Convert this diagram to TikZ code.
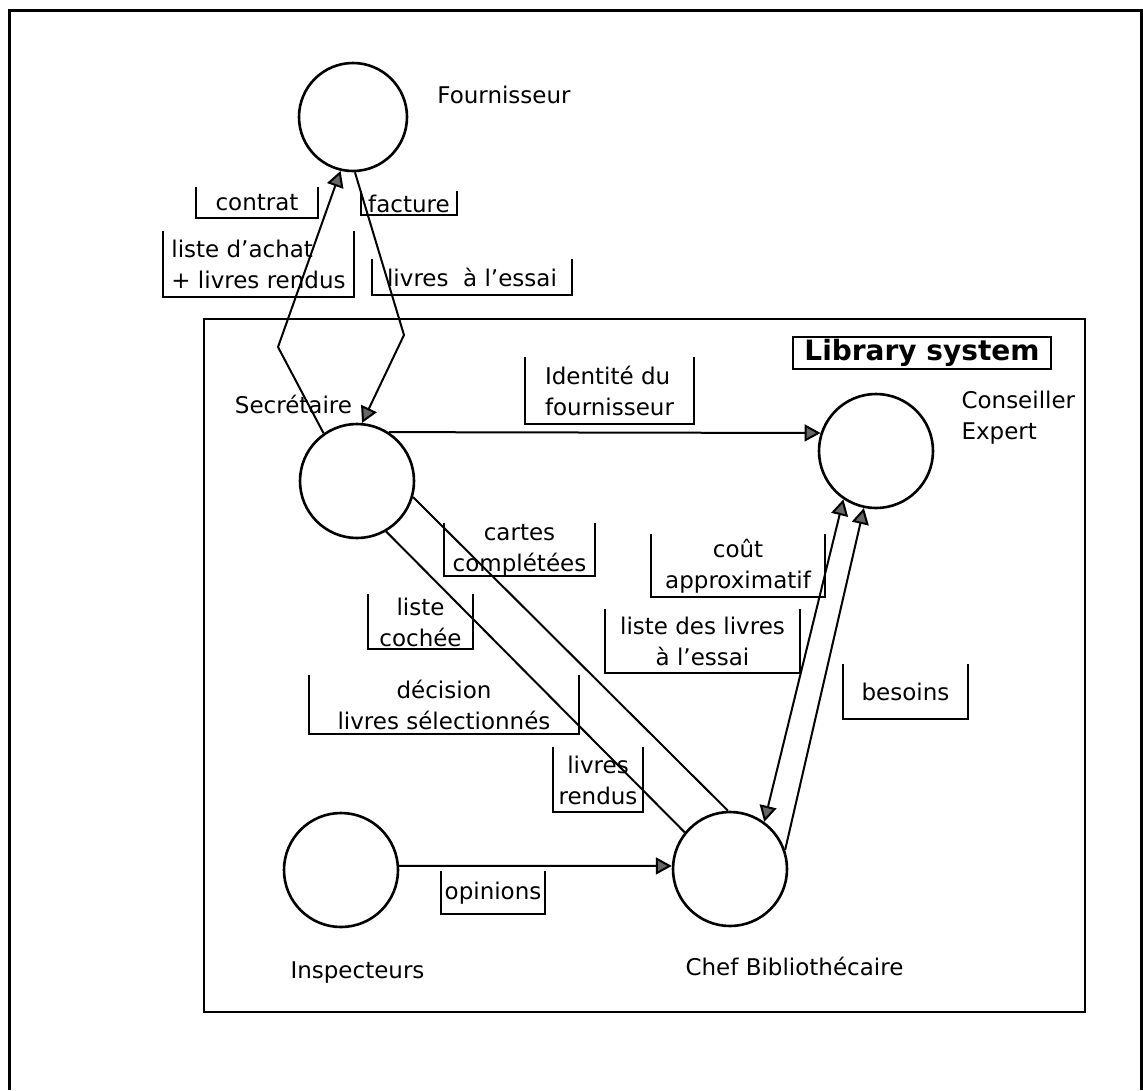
\documentclass[tikz,border=0pt]{standalone}
\usepackage{fontspec}
\setmainfont{DejaVu Sans}
\usetikzlibrary{arrows.meta}
\tikzset{
  dfd/.tip={Triangle[length=16pt,width=17pt,fill=black!60]},
  proc/.style={circle,draw,line width=2.6pt,minimum size=114pt,inner sep=0pt},
  flow/.style={line width=2pt,-dfd},
  lbledge/.style={draw,-,line width=2pt,line cap=rect},
  flowlbl/.style={inner sep=0pt,align=center,
    append after command={
      (\tikzlastnode.north west) edge[lbledge] (\tikzlastnode.south west)
      (\tikzlastnode.south west) edge[lbledge] (\tikzlastnode.south east)
      (\tikzlastnode.south east) edge[lbledge] (\tikzlastnode.north east)}}
}
\begin{document}
\begin{tikzpicture}[x=1pt,y=-1pt,font={\fontsize{23}{31}\selectfont}]
\useasboundingbox (0,0) rectangle (1143,1090);
\draw [line width=3pt] (9,1090)--(9,10)--(1141,10)--(1141,1090);
\draw [line width=2.6pt] (204,319) rectangle (1085,1012);

\node[proc,minimum size=108pt] (F) at (353,117) {};
\node[proc] (S) at (357,481) {};
\node[proc] (E) at (876,451) {};
\node[proc] (B) at (730,869) {};
\node[proc] (I) at (341,870) {};

\node (Fn) at (504,95) {Fournisseur};
\node (Sn) at (293.5,404) {Secrétaire};
\node[anchor=west,align=left] (En) at (958,418) {Conseiller\\Expert};
\node[anchor=west] (In) at (287,972) {Inspecteurs};
\node (Bn) at (794.5,966) {Chef Bibliothécaire};
\node[draw,line width=2pt,inner sep=0pt,minimum width=258pt,minimum height=32pt,
  font={\fontsize{28}{32}\selectfont\bfseries}] (lib) at (922,353) {Library system};

\node[flowlbl,minimum width=122pt,minimum height=30pt] (contrat) at (257,203) {contrat};
\node[flowlbl,minimum width=96pt,minimum height=23pt] (facture) at (409,203.5) {facture};
\node[flowlbl,align=left,minimum width=191pt,minimum height=65pt] (achat) at (258.5,264.5) {liste d'achat\\+ livres rendus};
\node[flowlbl,minimum width=200pt,minimum height=35pt] (essai) at (472,277.5) {livres~~à l'essai};
\node[flowlbl,align=left,minimum width=169pt,minimum height=66pt] (ident) at (609.5,391) {Identité du\\fournisseur};
\node[flowlbl,minimum width=151pt,minimum height=46pt] (cartes) at (519.5,550) {cartes\\complétées};
\node[flowlbl,minimum width=174pt,minimum height=62pt] (cout) at (738,566) {coût\\approximatif};
\node[flowlbl,minimum width=195pt,minimum height=63pt] (liste) at (702.5,641.5) {liste des livres\\à l'essai};
\node[flowlbl,minimum width=105pt,minimum height=54pt] (cochee) at (420.5,622) {liste\\cochée};
\node[flowlbl,minimum width=270pt,minimum height=58pt] (decision) at (444,705) {décision\\livres sélectionnés};
\node[flowlbl,minimum width=90pt,minimum height=64pt] (rendus) at (598,780) {livres\\rendus};
\node[flowlbl,minimum width=104pt,minimum height=42pt] (opinions) at (493,893) {opinions};
\node[flowlbl,minimum width=125pt,minimum height=54pt] (besoins) at (905.5,692) {besoins};

\coordinate (k1) at (278,347);
\coordinate (k2) at (404,335);
\draw [flow] (S.125)--(k1)--(F.257);
\draw [flow] (F.272)--(k2)--(S.85);

\draw [flow] (S.57)--(E.162);
\draw [line width=2pt] (S.344)--(B.92);
\draw [line width=2pt] (S.300)--(B.141);
\draw [flow] (I.4)--(B.177);

\draw [line width=2pt,dfd-dfd] (B.54)--(E.236);
\draw [flow] (B.19)--(E.258);
\end{tikzpicture}
\end{document}
